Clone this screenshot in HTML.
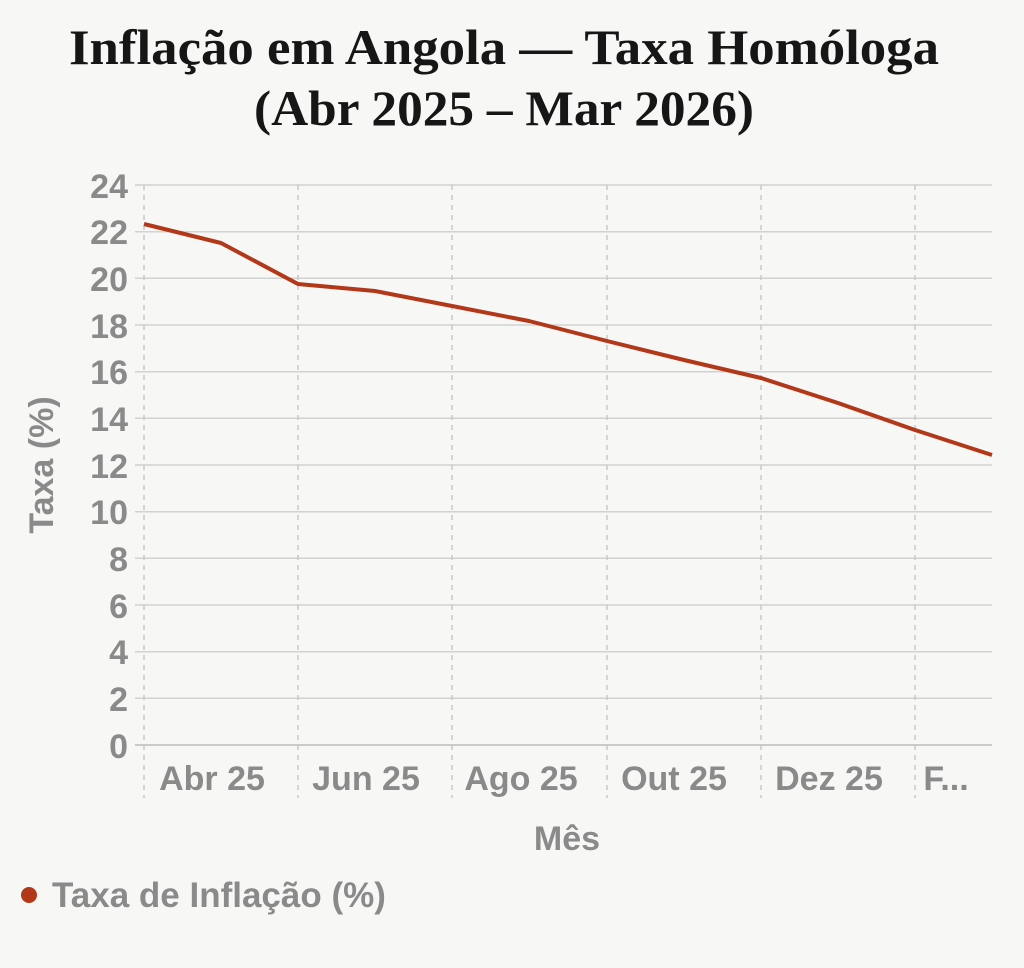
<!DOCTYPE html>
<html><head><meta charset="utf-8"><style>
html,body{margin:0;padding:0;background:#f7f7f5;}
svg{display:block;}
</style></head><body>
<svg width="1024" height="968" viewBox="0 0 1024 968" xmlns="http://www.w3.org/2000/svg">
<rect width="1024" height="968" fill="#f7f7f5"/>
<g font-family="Liberation Serif, serif" font-weight="bold" font-size="50" fill="#161616" text-anchor="middle">
<text x="504" y="64" textLength="870" lengthAdjust="spacingAndGlyphs">Inflação em Angola — Taxa Homóloga</text>
<text x="504" y="125" textLength="500" lengthAdjust="spacingAndGlyphs">(Abr 2025 – Mar 2026)</text>
</g>
<g stroke="#d2d2d2" stroke-width="1.5">
<line x1="135" x2="992" y1="185" y2="185"/><line x1="135" x2="992" y1="231.7" y2="231.7"/>
<line x1="135" x2="992" y1="278.3" y2="278.3"/><line x1="135" x2="992" y1="325" y2="325"/>
<line x1="135" x2="992" y1="371.7" y2="371.7"/><line x1="135" x2="992" y1="418.3" y2="418.3"/>
<line x1="135" x2="992" y1="465" y2="465"/><line x1="135" x2="992" y1="511.7" y2="511.7"/>
<line x1="135" x2="992" y1="558.3" y2="558.3"/><line x1="135" x2="992" y1="605" y2="605"/>
<line x1="135" x2="992" y1="651.7" y2="651.7"/><line x1="135" x2="992" y1="698.3" y2="698.3"/>
<line x1="135" x2="992" y1="745" y2="745" stroke="#bbb"/>
</g>
<g stroke="#c8c8c8" stroke-width="1.5" stroke-dasharray="5,5">
<line x1="144" x2="144" y1="185" y2="798"/><line x1="298" x2="298" y1="185" y2="798"/>
<line x1="452" x2="452" y1="185" y2="798"/><line x1="607" x2="607" y1="185" y2="798"/>
<line x1="761" x2="761" y1="185" y2="798"/><line x1="915" x2="915" y1="185" y2="798"/>
</g>
<g font-family="Liberation Sans, sans-serif" font-weight="600" font-size="34" fill="#8a8a8a" text-anchor="end">
<text x="128" y="198">24</text><text x="128" y="244">22</text><text x="128" y="291">20</text>
<text x="128" y="338">18</text><text x="128" y="384">16</text><text x="128" y="431">14</text>
<text x="128" y="478">12</text><text x="128" y="524">10</text><text x="128" y="571">8</text>
<text x="128" y="618">6</text><text x="128" y="664">4</text><text x="128" y="711">2</text>
<text x="128" y="758">0</text>
</g>
<g font-family="Liberation Sans, sans-serif" font-weight="600" font-size="34" fill="#8a8a8a" text-anchor="middle">
<text x="212" y="790">Abr 25</text><text x="366" y="790">Jun 25</text>
<text x="521" y="790">Ago 25</text><text x="674" y="790">Out 25</text>
<text x="829" y="790">Dez 25</text><text x="946" y="790">F...</text>
<text x="567" y="850">Mês</text>
<text transform="translate(53,465) rotate(-90)">Taxa (%)</text>
</g>
<polyline fill="none" stroke="#b3381a" stroke-width="4" stroke-linejoin="round" points="144,224 221,243 298,284 375,291 452,306 529,321 607,341 684,360 761,378 838,403 915,430 992,455"/>
<circle cx="29" cy="895" r="8" fill="#b3381a"/>
<text x="52" y="907" font-family="Liberation Sans, sans-serif" font-weight="600" font-size="35" fill="#8a8a8a">Taxa de Inflação (%)</text>
</svg>
</body></html>
